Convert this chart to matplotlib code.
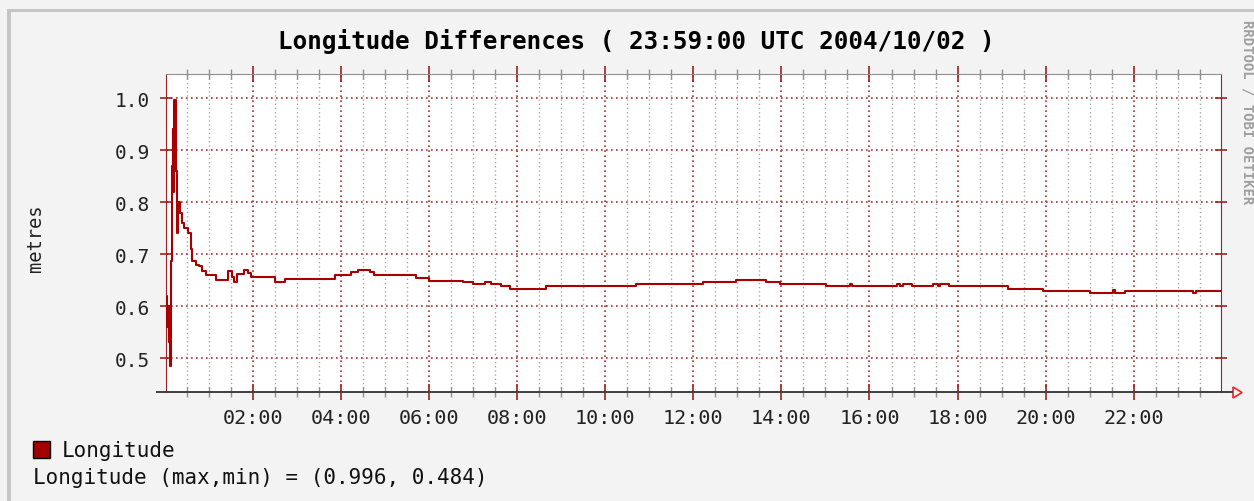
import numpy as np
import matplotlib
matplotlib.use('Agg')
import matplotlib.pyplot as plt
from matplotlib.patches import Rectangle, Polygon
from matplotlib.lines import Line2D

# time in hours (UTC) and longitude difference in metres
hours = [0.03, 0.05, 0.07, 0.09, 0.11, 0.125, 0.14, 0.17, 0.185, 0.20, 0.215,
         0.25, 0.275, 0.30, 0.35, 0.39, 0.44, 0.53, 0.60, 0.62, 0.70, 0.78,
         0.85, 0.93, 1.16, 1.43, 1.52, 1.57, 1.65, 1.81, 1.90, 1.97, 2.50,
         2.74, 3.87, 4.24, 4.40, 4.66, 4.75, 5.70, 6.00, 6.78, 7.00, 7.27,
         7.40, 7.64, 7.84, 8.66, 10.70, 12.22, 12.97, 13.66, 13.96, 15.02,
         15.55, 15.60, 16.62, 16.70, 16.76, 16.96, 17.45, 17.55, 17.60, 17.80,
         19.14, 19.94, 21.00, 21.52, 21.58, 21.80, 23.34, 23.42, 23.98]
metres = [0.62, 0.56, 0.60, 0.53, 0.58, 0.484, 0.686, 0.87, 0.94, 0.82, 0.996,
          0.86, 0.74, 0.80, 0.78, 0.76, 0.75, 0.74, 0.71, 0.686, 0.68, 0.677,
          0.668, 0.660, 0.651, 0.667, 0.656, 0.646, 0.662, 0.670, 0.663, 0.655, 0.647,
          0.653, 0.660, 0.665, 0.670, 0.665, 0.659, 0.654, 0.649, 0.646, 0.642, 0.646,
          0.642, 0.638, 0.633, 0.638, 0.642, 0.646, 0.651, 0.646, 0.642, 0.638,
          0.642, 0.638, 0.643, 0.638, 0.643, 0.638, 0.643, 0.638, 0.643, 0.638,
          0.633, 0.629, 0.626, 0.630, 0.626, 0.629, 0.625, 0.629, 0.629]

yticks = [0.5, 0.6, 0.7, 0.8, 0.9, 1.0]
xmajor = [2, 4, 6, 8, 10, 12, 14, 16, 18, 20, 22]
xlabels = ['%02d:00' % h for h in xmajor]

W, H = 1254, 502
bg = '#f3f3f3'
gridred = '#a83232'
gridgray = '#a8a8a8'
mono = 'DejaVu Sans Mono'

fig = plt.figure(figsize=(W / 100, H / 100), dpi=100, facecolor=bg)
ax = fig.add_axes([166 / W, 1 - 393 / H, (1221 - 166) / W, (393 - 75) / H])
ax.set_facecolor('white')

ax.plot(hours, metres, drawstyle='steps-post', color='#a80000', lw=1.5, zorder=5)

ax.set_xlim(0.03, 23.98)
ax.set_ylim(0.4346, 1.0467)

ax.set_xticks(xmajor)
ax.set_xticklabels(xlabels, fontfamily=mono, fontsize=14.5, color='#222222')
ax.set_xticks(np.arange(0.5, 24, 0.5), minor=True)
ax.set_yticks(yticks)
ax.set_yticklabels(['%.1f' % v for v in yticks], fontfamily=mono, fontsize=14, color='#222222')

dot = (0, (1, 2))
ax.grid(True, which='minor', axis='x', color=gridgray, ls=dot, lw=1)
ax.grid(True, which='major', axis='x', color=gridred, ls=dot, lw=1.2)
ax.grid(True, which='major', axis='y', color=gridred, ls=dot, lw=1.2)
ax.set_axisbelow(True)

ax.tick_params(axis='x', which='major', direction='inout', length=11, width=1.2,
               color='#a02020', top=True, pad=6)
ax.tick_params(axis='x', which='minor', direction='inout', length=7, width=1,
               color='#909090', top=True)
ax.tick_params(axis='y', which='major', direction='inout', length=9, width=1.2,
               color='#a02020', right=True, pad=7)

ax.spines['top'].set_color('#909090')
ax.spines['left'].set_color('#a02020')
ax.spines['right'].set_color('#a02020')
ax.spines['bottom'].set_visible(False)

# frame around the image
fig.add_artist(Rectangle((7 / W, 1 - 13 / H), (W - 7) / W, 3 / H, transform=fig.transFigure,
                         color='#c6c6c6', lw=0))
fig.add_artist(Rectangle((7 / W, 0), 4 / W, 1 - 10 / H, transform=fig.transFigure,
                         color='#c6c6c6', lw=0))

# x axis line with arrow
fig.add_artist(Line2D([157 / W, 1232 / W], [1 - 393 / H, 1 - 393 / H], transform=fig.transFigure,
                      color='#404040', lw=1.4))
fig.add_artist(Polygon([(1233 / W, 1 - 388 / H), (1233 / W, 1 - 399 / H), (1242 / W, 1 - 393.5 / H)],
                       closed=True, transform=fig.transFigure, fill=False, edgecolor='#ff2020', lw=1.2))

fig.text(636.5 / W, 1 - 42 / H, 'Longitude Differences ( 23:59:00 UTC 2004/10/02 )',
         ha='center', va='center', fontfamily=mono, fontweight='bold', fontsize=17.5, color='black')
fig.text(35 / W, 1 - 238 / H, 'metres', rotation=90, ha='center', va='center',
         fontfamily=mono, fontsize=13.5, color='#222222')
fig.text(1247 / W, 1 - 20 / H, 'RRDTOOL / TOBI OETIKER', rotation=270, ha='center', va='top',
         fontfamily=mono, fontsize=10, fontweight='bold', color='#a0a0a0')

# legend
fig.add_artist(Rectangle((33 / W, 1 - 459 / H), 17 / W, 17 / H, transform=fig.transFigure,
                         facecolor='#a00000', edgecolor='black', lw=1))
fig.text(62 / W, 1 - 451 / H, 'Longitude', ha='left', va='center',
         fontfamily=mono, fontsize=15, color='#111111')
fig.text(33 / W, 1 - 478 / H, 'Longitude (max,min) = (%.3f, %.3f)' % (max(metres), min(metres)),
         ha='left', va='center', fontfamily=mono, fontsize=15, color='#111111')

fig.savefig('out.png', dpi=100, facecolor=bg)
